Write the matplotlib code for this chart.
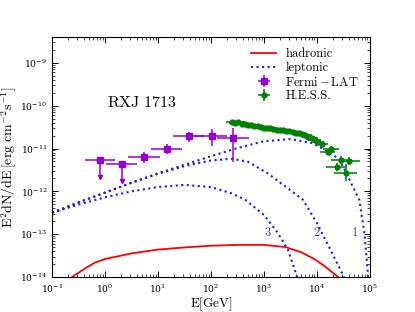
import numpy as np
import matplotlib
matplotlib.use('Agg')
import matplotlib.pyplot as plt

plt.rcParams['mathtext.fontset'] = 'cm'
plt.rcParams['font.family'] = 'serif'
plt.rcParams['font.serif'] = ['DejaVu Serif']
plt.rcParams['font.size'] = 7
plt.rcParams['xtick.direction'] = 'in'
plt.rcParams['ytick.direction'] = 'in'
plt.rcParams['xtick.top'] = True
plt.rcParams['ytick.right'] = True

# model curves, read as log10(E/GeV), log10(E^2 dN/dE)
had_logE = [-0.62, -0.4, -0.2, 0.0, 0.5, 1.0, 1.5, 2.0, 2.5, 3.0, 3.4, 3.7, 3.95, 4.15, 4.4]
had_logF = [-14.0, -13.82, -13.67, -13.58, -13.45, -13.36, -13.31, -13.27, -13.25, -13.25,
            -13.30, -13.42, -13.58, -13.75, -14.0]

lep1_logE = [-1.0, -0.5, 0.0, 0.5, 1.0, 1.5, 2.0, 2.5, 3.0, 3.5, 3.9, 4.15, 4.4, 4.55, 4.65,
             4.8, 4.9, 4.97]
lep1_logF = [-12.50, -12.26, -12.03, -11.80, -11.58, -11.38, -11.18, -10.99, -10.83, -10.78,
             -10.87, -11.03, -11.23, -11.55, -11.82, -12.2, -13.0, -14.05]

lep2_logE = [-1.0, -0.5, 0.0, 0.5, 1.0, 1.5, 2.0, 2.4, 2.7, 3.06, 3.4, 3.74, 4.0, 4.25, 4.53]
lep2_logF = [-12.50, -12.26, -12.03, -11.80, -11.59, -11.41, -11.28, -11.24, -11.31, -11.57,
             -11.88, -12.20, -12.74, -13.35, -14.05]

lep3_logE = [-1.0, -0.5, 0.0, 0.5, 1.0, 1.5, 2.0, 2.4, 2.65, 3.0, 3.25, 3.45, 3.64]
lep3_logF = [-12.50, -12.31, -12.14, -12.00, -11.90, -11.85, -11.90, -12.05, -12.20, -12.55,
             -12.95, -13.35, -14.05]

# Fermi-LAT
lat_logE = [-0.09, 0.32, 0.74, 1.17, 1.59, 2.02, 2.42]
lat_logElo = [-0.38, 0.02, 0.44, 0.87, 1.29, 1.70, 2.12]
lat_logEhi = [0.19, 0.61, 1.04, 1.46, 1.87, 2.31, 2.71]
lat_logF = [-11.27, -11.36, -11.20, -11.01, -10.71, -10.71, -10.75]
lat_logFlo = [-11.66, -11.75, -11.34, -11.13, -10.85, -10.94, -11.31]
lat_logFhi = [-11.27, -11.36, -11.08, -10.89, -10.61, -10.54, -10.52]
lat_ul = [True, True, False, False, False, False, False]

# H.E.S.S.
hess_logE = [2.40, 2.46, 2.52, 2.58, 2.64, 2.70, 2.76, 2.82, 2.88, 2.94, 3.00, 3.06, 3.12,
             3.18, 3.24, 3.30, 3.36, 3.42, 3.48, 3.54, 3.60, 3.66, 3.72, 3.78, 3.84, 3.90,
             3.96, 4.02, 4.09, 4.20, 4.27, 4.37, 4.46, 4.54, 4.61]
hess_logF = [-10.37, -10.40, -10.39, -10.42, -10.43, -10.45, -10.46, -10.48, -10.48, -10.50,
             -10.51, -10.53, -10.52, -10.55, -10.56, -10.57, -10.57, -10.59, -10.60, -10.61,
             -10.63, -10.64, -10.66, -10.69, -10.72, -10.75, -10.80, -10.85, -10.90, -11.08,
             -11.01, -11.43, -11.27, -11.57, -11.29]
hess_dlogE = [0.12] * 29 + [0.15, 0.15, 0.2, 0.2, 0.22, 0.2]
hess_dlogF = [0.03] * 20 + [0.04] * 9 + [0.07, 0.07, 0.1, 0.1, 0.2, 0.1]

curve_labels = ['1', '2', '3']
curve_label_logE = [4.71, 4.0, 3.08]
curve_label_logF = [-12.95, -12.95, -12.95]

xtick_exp = [-1, 0, 1, 2, 3, 4, 5]
ytick_exp = [-14, -13, -12, -11, -10, -9]

fig = plt.figure(figsize=(4.15, 3.12), dpi=100)
ax = fig.add_axes([0.1253, 0.1122, 0.766, 0.769])

p = lambda v: 10.0 ** np.asarray(v, dtype=float)

ax.plot(p(had_logE), p(had_logF), color='red', lw=1.3, label='hadronic')
ax.plot(p(lep1_logE), p(lep1_logF), color='#1a1aff', lw=1.5, ls=':', label='leptonic')
ax.plot(p(lep2_logE), p(lep2_logF), color='#1a1aff', lw=1.5, ls=':')
ax.plot(p(lep3_logE), p(lep3_logF), color='#1a1aff', lw=1.5, ls=':')

lx = p(lat_logE)
ly = p(lat_logF)
lxerr = [lx - p(lat_logElo), p(lat_logEhi) - lx]
lyerr = [ly - p(lat_logFlo), p(lat_logFhi) - ly]
ax.errorbar(lx, ly, xerr=lxerr, yerr=lyerr, fmt='s', color='darkviolet', ms=4,
            elinewidth=1.1, capsize=0, label=r'$\mathrm{Fermi}\,{-}\,\mathrm{LAT}$', zorder=4)
ul = np.array(lat_ul)
ax.plot(lx[ul], p(lat_logFlo)[ul], 'v', color='darkviolet', ms=3, zorder=4)

hx = p(hess_logE)
hy = p(hess_logF)
hxerr = [hx - p(np.array(hess_logE) - hess_dlogE), p(np.array(hess_logE) + hess_dlogE) - hx]
hyerr = [hy - p(np.array(hess_logF) - hess_dlogF), p(np.array(hess_logF) + hess_dlogF) - hy]
ax.errorbar(hx, hy, xerr=hxerr, yerr=hyerr, fmt='o', color='green', ms=3.5,
            ecolor='#2f9a2f', elinewidth=1.4, capsize=0, label='H.E.S.S.', zorder=5)

for t, xe, ye in zip(curve_labels, curve_label_logE, curve_label_logF):
    ax.text(10 ** xe, 10 ** ye, '$' + t + '$', color='#3333ff', fontsize=9, ha='center', va='center')

ax.text(10 ** 0.04, 10 ** -9.93, r'$\mathrm{RXJ\ 1713}$', fontsize=11.5, ha='left', va='center')

ax.set_xscale('log')
ax.set_yscale('log')
ax.set_xlim(1e-1, 1e5)
ax.set_ylim(1e-14, 4e-9)
ax.set_xticks(p(xtick_exp))
ax.set_yticks(p(ytick_exp))
ax.xaxis.set_minor_locator(matplotlib.ticker.LogLocator(base=10, subs=np.arange(2, 10), numticks=20))
ax.yaxis.set_minor_locator(matplotlib.ticker.LogLocator(base=10, subs=np.arange(2, 10), numticks=20))
ax.xaxis.set_minor_formatter(matplotlib.ticker.NullFormatter())
ax.yaxis.set_minor_formatter(matplotlib.ticker.NullFormatter())
ax.tick_params(which='major', length=4, width=0.7, labelsize=6.6)
ax.tick_params(axis='x', which='major', pad=4)
ax.tick_params(which='minor', length=2, width=0.5)
for s in ax.spines.values():
    s.set_linewidth(0.8)

ax.set_xlabel(r'$\mathrm{E[GeV]}$', fontsize=9.5)
ax.xaxis.set_label_coords(0.5, -0.075)
ax.set_ylabel(r'$\mathrm{E^2dN/dE\,[erg\ cm^{-2}s^{-1}]}$', fontsize=10)
ax.yaxis.set_label_coords(-0.105, 0.5)

leg = ax.legend(loc='upper right', frameon=False, fontsize=9, handlelength=2.0, handletextpad=0.7,
                borderaxespad=0.55, labelspacing=0.12, borderpad=0.35)
for i in (0, 1, 3):
    leg.get_texts()[i].set_fontfamily('cmr10')

fig.savefig('out.png', dpi=100)
